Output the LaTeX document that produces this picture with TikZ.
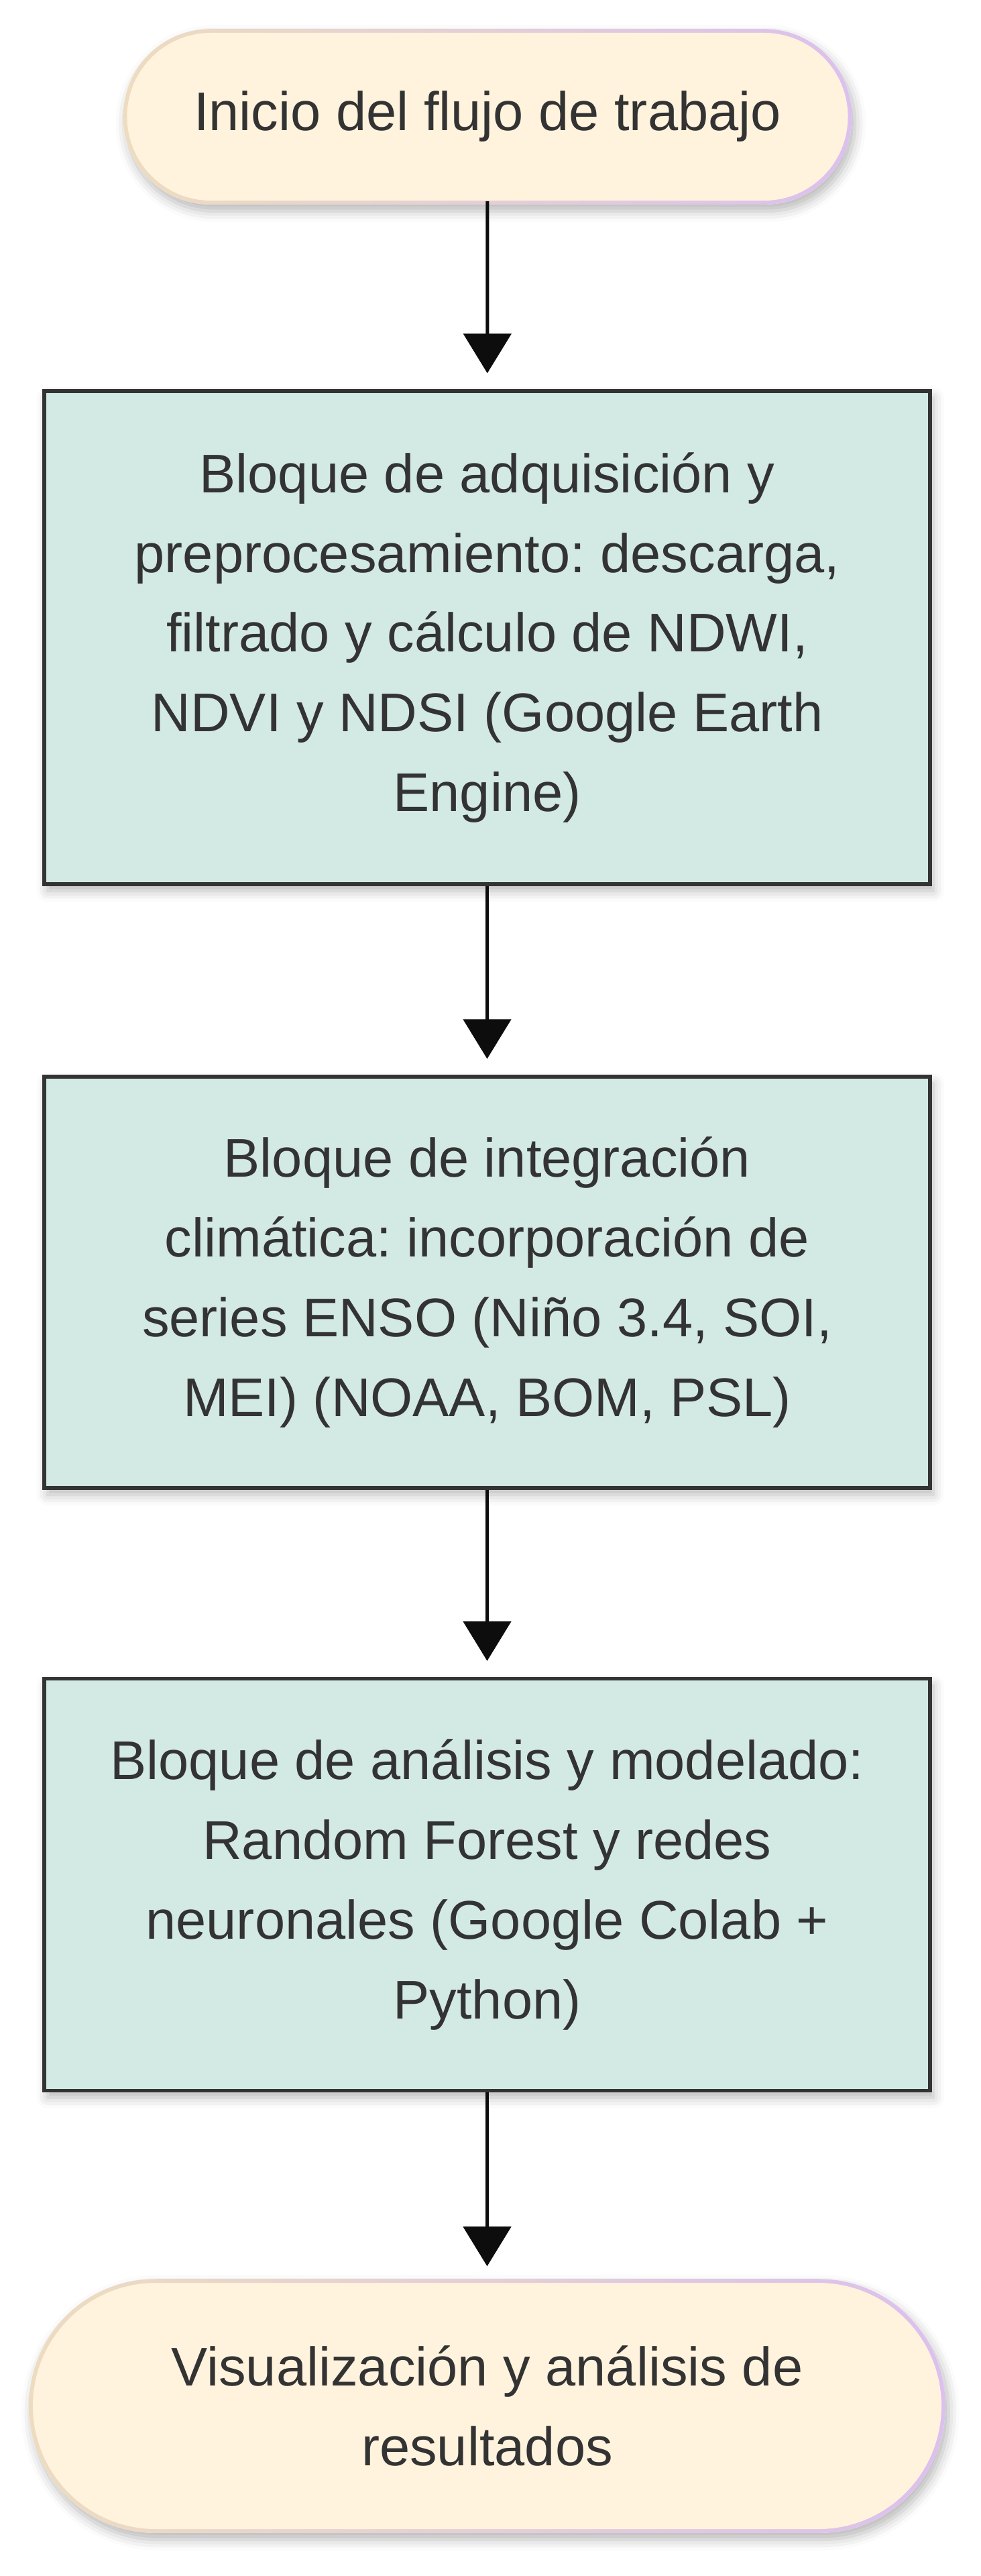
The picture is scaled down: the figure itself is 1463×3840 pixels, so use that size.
\documentclass[tikz,border=0pt]{standalone}
\usepackage{fontspec}
\setmainfont{Liberation Sans}
\usetikzlibrary{arrows.meta,shadows.blur,backgrounds,calc}
\frenchspacing
\definecolor{txt}{HTML}{333333}
\definecolor{cream}{HTML}{FFF3DD}
\definecolor{boxfill}{HTML}{D3E9E3}
\definecolor{tanb}{HTML}{EDDCC0}
\definecolor{lavb}{HTML}{DCC0EE}
\definecolor{arrowc}{HTML}{0D0D0D}
\tikzset{
  base/.style={text=txt, font=\fontsize{20.3pt}{29.7pt}\selectfont\frenchspacing, align=center, inner sep=0pt},
  softshadow/.style={blur shadow={shadow xshift=1.2pt, shadow yshift=-2.5pt, shadow blur radius=4pt, shadow opacity=28}},
  procbox/.style={base, draw=txt, line width=1.3pt, fill=boxfill, minimum width=330.25pt, softshadow},
  termnode/.style={base, fill=cream},
  flow/.style={-{Triangle[length=14.75pt,width=17.75pt]}, line width=1.25pt, draw=arrowc, shorten >=6pt}
}
\begin{document}
\begin{tikzpicture}[x=0.25pt,y=-0.25pt]
\useasboundingbox (0,0) rectangle (1463,3840);

\node[termnode, minimum width=268.75pt, minimum height=62.5pt, rounded corners=31.25pt] (s) at (727,174) {Inicio del flujo de trabajo};

\node[procbox, minimum height=183.75pt] (b1) at (726.5,950.5)
  {Bloque de adquisición y\\preprocesamiento: descarga,\\filtrado y cálculo de NDWI,\\NDVI y NDSI (Google Earth\\Engine)};

\node[procbox, minimum height=153.25pt] (b2) at (726.5,1911.5)
  {Bloque de integración\\climática: incorporación de\\series ENSO (Niño 3.4, SOI,\\MEI) (NOAA, BOM, PSL)};

\node[procbox, minimum height=153.5pt] (b3) at (726.5,2809.5)
  {Bloque de análisis y modelado:\\Random Forest y redes\\neuronales (Google Colab +\\Python)};

\node[termnode, minimum width=338.75pt, minimum height=91.75pt, rounded corners=45.9pt] (e) at (726.5,3586.5)
  {Visualización y análisis de\\resultados};

\begin{scope}[on background layer]
  \fill[white, rounded corners=32.5pt, softshadow] ($(s.south west)+(-1.25pt,-1.25pt)$) rectangle ($(s.north east)+(1.25pt,1.25pt)$);
  \shade[left color=tanb, right color=lavb, rounded corners=32.5pt] ($(s.south west)+(-1.25pt,-1.25pt)$) rectangle ($(s.north east)+(1.25pt,1.25pt)$);
  \fill[white, rounded corners=47.1pt, softshadow] ($(e.south west)+(-1.25pt,-1.25pt)$) rectangle ($(e.north east)+(1.25pt,1.25pt)$);
  \shade[left color=tanb, right color=lavb, rounded corners=47.1pt] ($(e.south west)+(-1.25pt,-1.25pt)$) rectangle ($(e.north east)+(1.25pt,1.25pt)$);
\end{scope}

\draw[flow] (s) -- (b1);
\draw[flow] (b1) -- (b2);
\draw[flow] (b2) -- (b3);
\draw[flow] (b3) -- (e);
\end{tikzpicture}
\end{document}
